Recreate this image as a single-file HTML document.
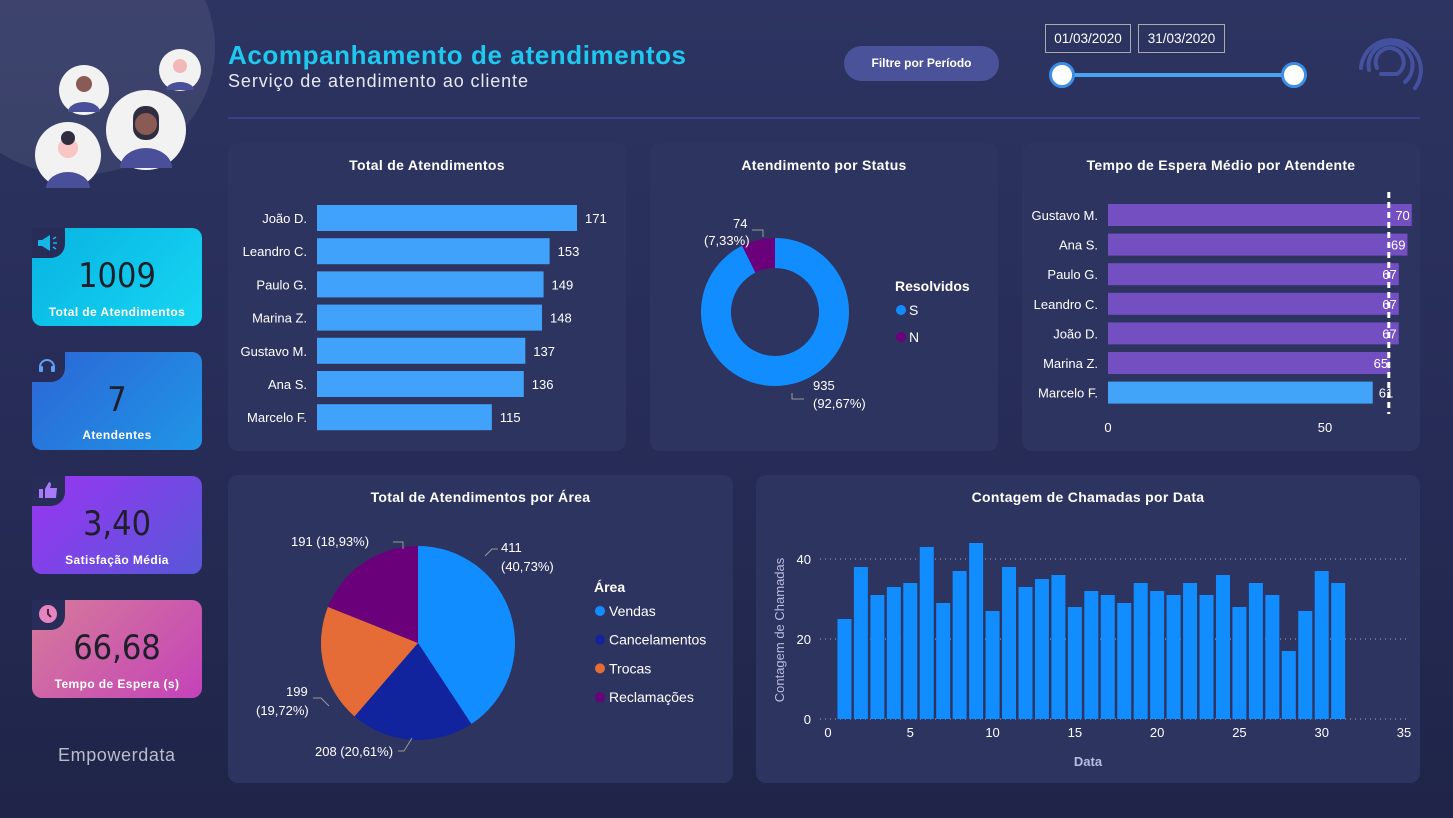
<!DOCTYPE html>
<html><head><meta charset="utf-8"><style>
*{margin:0;padding:0;box-sizing:border-box}
body{width:1453px;height:818px;overflow:hidden;background:linear-gradient(180deg,#2d3461 0%,#262c56 55%,#1f2448 100%);font-family:"Liberation Sans",sans-serif;color:#fff;position:relative}
.abs{position:absolute}
.panel{position:absolute;background:#2e3460;border-radius:10px}
.ptitle{position:absolute;left:0;right:0;text-align:center;font-weight:bold;font-size:14px;top:14px;letter-spacing:0.3px}
.card{position:absolute;left:32px;width:170px;height:98px;border-radius:10px}
.notch{position:absolute;left:0;top:0;width:33px;height:30px;background:#272d58;border-bottom-right-radius:14px}
.kv{position:absolute;left:0;right:0;text-align:center;font-family:"DejaVu Sans Condensed","DejaVu Sans",sans-serif;font-size:34px;color:#1f1f2a;top:28px}
.kl{position:absolute;left:0;right:0;text-align:center;font-weight:bold;font-size:12px;top:77px;letter-spacing:0.4px}
.kl2{top:76px}
</style></head><body>
<div class="abs" style="left:-60px;top:-80px;width:275px;height:255px;border-radius:50%;background:rgba(255,255,255,0.08)"></div>
<svg class="abs" style="left:0;top:0" width="220" height="200">
<circle cx="84" cy="90" r="25" fill="#f2f2f2"/><circle cx="84" cy="84" r="8" fill="#8a5a55"/><path d="M68 112 a16 10 0 0 1 32 0 z" fill="#4a4f99"/>
<circle cx="180" cy="70" r="21" fill="#f2f2f2"/><circle cx="180" cy="66" r="7" fill="#f2b8b8"/><path d="M166 90 a14 8 0 0 1 28 0z" fill="#4a4f99"/>
<circle cx="146" cy="130" r="40" fill="#f2f2f2"/><rect x="133" y="106" width="26" height="34" rx="12" fill="#2f2e41"/><circle cx="146" cy="124" r="11" fill="#8a5a55"/><path d="M120 168 a26 20 0 0 1 52 0z" fill="#4a4f99"/>
<circle cx="68" cy="155" r="33" fill="#f2f2f2"/><circle cx="68" cy="148" r="10" fill="#f9c5c5"/><circle cx="68" cy="138" r="7" fill="#2f2e41"/><path d="M46 188 a22 16 0 0 1 44 0z" fill="#4a4f99"/>
</svg>
<div class="abs" style="left:228px;top:40px;font-size:26px;font-weight:bold;color:#1ec8ef;letter-spacing:0.6px">Acompanhamento de atendimentos</div>
<div class="abs" style="left:228px;top:71px;font-size:18px;color:#e8e8f0;letter-spacing:0.9px">Serviço de atendimento ao cliente</div>
<div class="abs" style="left:228px;top:117px;width:1192px;height:2px;background:#38408a"></div>
<div class="abs" style="left:844px;top:46px;width:155px;height:35px;border-radius:18px;background:#4a5299;font-size:12px;font-weight:bold;text-align:center;line-height:35px">Filtre por Período</div>
<div class="abs" style="left:1045px;top:24px;width:86px;height:29px;border:1px solid #aaa;font-size:13.5px;text-align:center;line-height:27px">01/03/2020</div>
<div class="abs" style="left:1138px;top:24px;width:87px;height:29px;border:1px solid #aaa;font-size:13.5px;text-align:center;line-height:27px">31/03/2020</div>
<div class="abs" style="left:1062px;top:73px;width:232px;height:4px;background:#4aa3f0"></div>
<div class="abs" style="left:1049px;top:62px;width:26px;height:26px;border-radius:50%;background:#fff;border:3px solid #3a8ee8"></div>
<div class="abs" style="left:1281px;top:62px;width:26px;height:26px;border-radius:50%;background:#fff;border:3px solid #3a8ee8"></div>
<svg class="abs" style="left:1355px;top:28px" width="70" height="70"><g fill="none" stroke="#44519e" stroke-width="4" stroke-linecap="round"><path d="M6 40 A30 30 0 1 1 60 60"/><path d="M14 42 A22 22 0 1 1 50 54"/><path d="M22 40 A14 14 0 1 1 42 46 L26 46"/></g></svg>

<div class="card" style="top:228px;background:linear-gradient(135deg,#08b3e2,#16d6f2)"><div class="notch"></div><div class="kv">1009</div><div class="kl">Total de Atendimentos</div></div>
<div class="card" style="top:352px;background:linear-gradient(135deg,#2c66d6,#1f95e6)"><div class="notch"></div><div class="kv">7</div><div class="kl kl2">Atendentes</div></div>
<div class="card" style="top:476px;background:linear-gradient(135deg,#9a35f2,#5757d8)"><div class="notch"></div><div class="kv">3,40</div><div class="kl">Satisfação Média</div></div>
<div class="card" style="top:600px;background:linear-gradient(135deg,#d67b9a,#c443b9)"><div class="notch"></div><div class="kv">66,68</div><div class="kl">Tempo de Espera (s)</div></div>
<svg class="abs" style="left:37px;top:234px" width="22" height="18"><path d="M1 6 h4 l8 -5 v16 l-8 -5 h-4z" fill="#18b5e8"/><path d="M16 5 l3 -2 M16 9 h4 M16 13 l3 2" stroke="#18b5e8" stroke-width="1.6"/></svg>
<svg class="abs" style="left:36px;top:354px" width="22" height="22"><path d="M4 13 A7 7 0 0 1 18 13" fill="none" stroke="#5fa0f0" stroke-width="2"/><rect x="3" y="12" width="4" height="6" rx="1" fill="#5fa0f0"/><rect x="15" y="12" width="4" height="6" rx="1" fill="#5fa0f0"/></svg>
<svg class="abs" style="left:39px;top:481px" width="20" height="18"><rect x="0" y="8" width="4" height="9" fill="#a97af8"/><path d="M6 8 L10 1 Q12 1 12 4 L11 7 L18 7 L17 17 L6 17z" fill="#a97af8"/></svg>
<svg class="abs" style="left:38px;top:604px" width="20" height="20"><circle cx="10" cy="10" r="9" fill="#e586c0"/><path d="M10 5 V10 L13 13" stroke="#5a1d4a" stroke-width="2" fill="none"/></svg>
<div class="abs" style="left:58px;top:745px;font-size:18px;color:#b9bccc;letter-spacing:0.6px">Empowerdata</div>

<div class="panel" style="left:228px;top:143px;width:398px;height:308px"><div class="ptitle">Total de Atendimentos</div></div>
<div class="panel" style="left:650px;top:143px;width:348px;height:308px"><div class="ptitle">Atendimento por Status</div></div>
<div class="panel" style="left:1022px;top:143px;width:398px;height:308px"><div class="ptitle">Tempo de Espera Médio por Atendente</div></div>
<div class="panel" style="left:228px;top:475px;width:505px;height:308px"><div class="ptitle">Total de Atendimentos por Área</div></div>
<div class="panel" style="left:756px;top:475px;width:664px;height:308px"><div class="ptitle">Contagem de Chamadas por Data</div></div>

<svg id="ch" class="abs" style="left:0;top:0" width="1453" height="818" font-family="Liberation Sans, sans-serif"></svg>
<script>
const totNames=["João D.","Leandro C.","Paulo G.","Marina Z.","Gustavo M.","Ana S.","Marcelo F."];
const totValues=[171,153,149,148,137,136,115];
const waitNames=["Gustavo M.","Ana S.","Paulo G.","Leandro C.","João D.","Marina Z.","Marcelo F."];
const waitValues=[70,69,67,67,67,65,61];
const waitAvg=64.7;
const waitTicks=[0,50];
const statusLabels=["S","N"];
const statusValues=[935,74];
const statusPct=["92,67%","7,33%"];
const areaLabels=["Vendas","Cancelamentos","Trocas","Reclamações"];
const areaValues=[411,208,199,191];
const areaPct=["40,73%","20,61%","19,72%","18,93%"];
const dayValues=[25,38,31,33,34,43,29,37,44,27,38,33,35,36,28,32,31,29,34,32,31,34,31,36,28,34,31,17,27,37,34];
const dayXTicks=[0,5,10,15,20,25,30,35];
const dayYTicks=[0,20,40];

const S=document.getElementById('ch');const NS="http://www.w3.org/2000/svg";
function mk(t,a,txt){const e=document.createElementNS(NS,t);for(const k in a)e.setAttribute(k,a[k]);if(txt!==undefined)e.textContent=txt;S.appendChild(e);return e;}

const tx=v=>317+v*(260/171), ty=i=>218+i*33.2;
totValues.forEach((v,i)=>{
 const r=mk('rect',{x:317,y:ty(i)-13,width:tx(v)-317,height:26,fill:'#41a2fb'});
 
 const l=mk('text',{x:307,y:ty(i)+5,'text-anchor':'end','font-size':13,fill:'#fff'},totNames[i]);
 
 const n=mk('text',{x:tx(v)+8,y:ty(i)+5,'font-size':13,fill:'#fff'},v);
 
});

const wx=v=>1108+v*(217/50), wy=i=>215+i*29.6;
waitValues.forEach((v,i)=>{
 const last=i==waitValues.length-1;
 const r=mk('rect',{x:1108,y:wy(i)-11,width:wx(v)-1108,height:22,fill:last?'#42a4f8':'#744fc2'});
 
 const l=mk('text',{x:1098,y:wy(i)+5,'text-anchor':'end','font-size':13,fill:'#fff'},waitNames[i]);
 
 const n=mk('text',{x:last?wx(v)+6:wx(v)-2,y:wy(i)+5,'text-anchor':last?'start':'end','font-size':13,fill:'#fff'},v);
 
});
const al=mk('line',{x1:wx(waitAvg),x2:wx(waitAvg),y1:192,y2:414,stroke:'#fff','stroke-width':3,'stroke-dasharray':'6 4'});

waitTicks.forEach(t=>{const e=mk('text',{x:wx(t),y:432,'text-anchor':'middle','font-size':13,fill:'#fff'},t);
 });

function arcPath(cx,cy,ro,ri,a0,a1){
 const p=(r,a)=>[cx+r*Math.sin(a),cy-r*Math.cos(a)];const lg=(a1-a0)>Math.PI?1:0;
 const [x0,y0]=p(ro,a0),[x1,y1]=p(ro,a1);
 if(ri===0)return `M${cx},${cy}L${x0},${y0}A${ro},${ro} 0 ${lg} 1 ${x1},${y1}Z`;
 const [x2,y2]=p(ri,a1),[x3,y3]=p(ri,a0);
 return `M${x0},${y0}A${ro},${ro} 0 ${lg} 1 ${x1},${y1}L${x2},${y2}A${ri},${ri} 0 ${lg} 0 ${x3},${y3}Z`;}
const stCol=['#118dff','#6b007b'];
let tot=statusValues.reduce((a,b)=>a+b,0),a=0;
statusValues.forEach((v,i)=>{const a1=a+v/tot*2*Math.PI;
 const e=mk('path',{d:arcPath(775,312,74,44,a,a1),fill:stCol[i]});
 a=a1;});
mk('path',{d:'M792,393 v6 h12',stroke:'#999',fill:'none'});
mk('path',{d:'M752,230 h11 v7',stroke:'#999',fill:'none'});
[['935',813,390],['('+statusPct[0]+')',813,408],['74',733,228],['('+statusPct[1]+')',704,245]].forEach(t=>{
 const e=mk('text',{x:t[1],y:t[2],'font-size':13,fill:'#fff'},t[0]);});
let e=mk('text',{x:895,y:291,'font-size':14,'font-weight':'bold',fill:'#fff'},'Resolvidos');
statusLabels.forEach((l,i)=>{mk('circle',{cx:901,cy:310+i*27,r:5,fill:stCol[i]});
 const t=mk('text',{x:909,y:315+i*27,'font-size':14,fill:'#fff'},l);});

const arCol=['#118dff','#12239e','#e66c37','#6b007b'];
tot=areaValues.reduce((a,b)=>a+b,0);a=0;
areaValues.forEach((v,i)=>{const a1=a+v/tot*2*Math.PI;
 const p=mk('path',{d:arcPath(418,643,97,0,a,a1),fill:arCol[i]});
 a=a1;});
mk('path',{d:'M485,556 l7,-7 h6',stroke:'#999',fill:'none'});
mk('path',{d:'M403,549 v-7 h-10',stroke:'#999',fill:'none'});
mk('path',{d:'M313,698 h8 l8,8',stroke:'#999',fill:'none'});
mk('path',{d:'M412,738 l-8,13 h-6',stroke:'#999',fill:'none'});
[[areaValues[0],501,552],['('+areaPct[0]+')',501,571],[areaValues[3]+' ('+areaPct[3]+')',291,546],[areaValues[2],286,696],['('+areaPct[2]+')',256,715],[areaValues[1]+' ('+areaPct[1]+')',315,756]].forEach(t=>{
 const x=mk('text',{x:t[1],y:t[2],'font-size':13,fill:'#fff'},t[0]);});
e=mk('text',{x:594,y:592,'font-size':14,'font-weight':'bold',fill:'#fff'},'Área');
areaLabels.forEach((l,i)=>{mk('circle',{cx:600,cy:611+i*28.7,r:5,fill:arCol[i]});
 const t=mk('text',{x:609,y:616+i*28.7,'font-size':14,fill:'#fff'},l);});

const dx=v=>828+v*(576/35), dy=v=>719-v*4;
dayYTicks.forEach(t=>{const g=mk('line',{x1:820,x2:1410,y1:dy(t),y2:dy(t),stroke:'#aab','stroke-dasharray':'1 4'});
 
 const l=mk('text',{x:811,y:dy(t)+5,'text-anchor':'end','font-size':13,fill:'#fff'},t);
 });
dayValues.forEach((v,i)=>{const r=mk('rect',{x:dx(i+1)-7,y:dy(v),width:14,height:719-dy(v),fill:'#118dff'});
 });
dayXTicks.forEach(t=>{const l=mk('text',{x:dx(t),y:737,'text-anchor':'middle','font-size':13,fill:'#fff'},t);
 });
e=mk('text',{x:1088,y:766,'text-anchor':'middle','font-size':13,'font-weight':'bold',fill:'#b8bce0'},'Data');
e=mk('text',{x:784,y:630,'text-anchor':'middle','font-size':13,fill:'#b8bce0',transform:'rotate(-90 784 630)'},'Contagem de Chamadas');
</script>
</body></html>
